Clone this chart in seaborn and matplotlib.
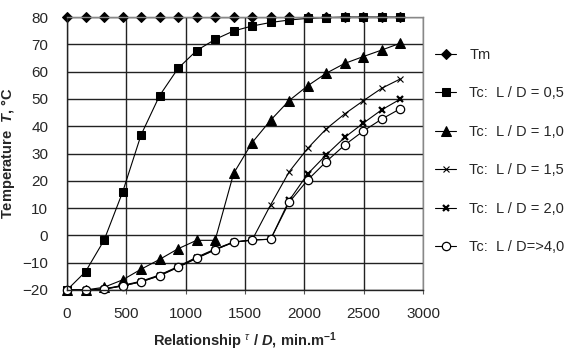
import matplotlib
matplotlib.use('Agg')
import matplotlib.pyplot as plt
import seaborn as sns

# relationship tau / D, min.m-1
ratio = [0, 156, 312, 468, 624, 780, 936, 1092, 1248, 1404,
         1560, 1716, 1872, 2028, 2184, 2340, 2496, 2652, 2808]

t_melt = [80, 80, 80, 80, 80, 80, 80, 80, 80, 80,
          80, 80, 80, 80, 80, 80, 80, 80, 80]
t_ld_05 = [-20, -13.3, -1.8, 15.8, 36.8, 51.2, 61.2, 67.7, 71.8, 74.9,
           76.7, 78.0, 78.9, 79.5, 79.8, 80, 80, 80, 80]
t_ld_10 = [-20, -20, -19, -16.3, -12.4, -8.8, -4.9, -1.8, -1.8, 22.7,
           34.0, 42.2, 49.4, 54.8, 59.4, 63.0, 65.5, 67.9, 70.4]
t_ld_15 = [-20, -20, -19.6, -18.3, -16.8, -14.5, -11.4, -8.0, -5.0, -2.4,
           -1.7, 11.2, 23.3, 31.9, 39.0, 44.5, 49.3, 53.9, 57.3]
t_ld_20 = [-20, -20, -19.7, -18.5, -17.0, -14.7, -11.6, -8.3, -5.2, -2.5,
           -1.7, -1.4, 12.8, 22.5, 29.5, 35.9, 41.1, 46.0, 49.9]
t_ld_40 = [-20, -20, -19.7, -18.5, -17.0, -14.8, -11.7, -8.4, -5.3, -2.5,
           -1.7, -1.4, 12.1, 20.3, 27.0, 33.1, 38.2, 42.6, 46.4]

labels = ['Tm', 'Tc:  L / D = 0,5', 'Tc:  L / D = 1,0', 'Tc:  L / D = 1,5',
          'Tc:  L / D = 2,0', 'Tc:  L / D=>4,0']

sns.set_style('white')
plt.rcParams['font.family'] = ['Liberation Sans', 'DejaVu Sans']
plt.rcParams['mathtext.fontset'] = 'custom'
plt.rcParams['mathtext.rm'] = 'Liberation Sans'
plt.rcParams['mathtext.it'] = 'Liberation Sans:italic'
plt.rcParams['mathtext.bf'] = 'Liberation Sans:bold'
plt.rcParams['mathtext.bfit'] = 'Liberation Sans:bold:italic'

fig = plt.figure(figsize=(5.65, 3.53), dpi=100)
ax = fig.add_axes([0.1186, 0.1785, 0.6301, 0.7733])

styles = [
    dict(marker='D', markersize=5, markerfacecolor='black', markeredgecolor='black'),
    dict(marker='s', markersize=6, markerfacecolor='black', markeredgecolor='black'),
    dict(marker='^', markersize=7, markerfacecolor='black', markeredgecolor='black'),
    dict(marker='x', markersize=5, markeredgewidth=0.8, markeredgecolor='black'),
    dict(marker='x', markersize=4, markeredgewidth=1.6, markeredgecolor='black'),
    dict(marker='o', markersize=6, markerfacecolor='white', markeredgecolor='black',
         markeredgewidth=0.9),
]
series = [t_melt, t_ld_05, t_ld_10, t_ld_15, t_ld_20, t_ld_40]

for vals, lab, st in zip(series, labels, styles):
    sns.lineplot(x=ratio, y=vals, ax=ax, color='black', linewidth=0.8,
                 label=lab, clip_on=False, **st)

ax.set_xlim(0, 3000)
ax.set_ylim(-20, 80)
ax.set_xticks(range(0, 3001, 500))
ax.set_yticks(range(-20, 81, 10))
ax.grid(True, color='#222222', linewidth=1.0)
ax.set_axisbelow(True)
for side in ['top', 'right']:
    ax.spines[side].set_color('#888888')
    ax.spines[side].set_linewidth(1.0)
for side in ['left', 'bottom']:
    ax.spines[side].set_color('#222222')
    ax.spines[side].set_linewidth(1.0)

ax.tick_params(axis='x', which='both', bottom=True, length=3, pad=9,
               labelsize=11, color='#555555')
ax.tick_params(axis='y', which='both', left=False, pad=10, labelsize=11)

ax.set_xlabel(r'Relationship $^{\tau}$ / $\mathbfit{D}$, min.m$^{\mathbf{-1}}$',
              fontsize=10.5, fontweight='bold', labelpad=7)
ax.set_ylabel(r'Temperature  $\mathbfit{T}$, °C', fontsize=10.5,
              fontweight='bold', labelpad=4)

ax.legend(loc='upper left', bbox_to_anchor=(0.77, 0.865), bbox_transform=fig.transFigure,
          frameon=False, fontsize=10.5, labelspacing=1.68, handlelength=1.45,
          handletextpad=0.9, borderaxespad=0, borderpad=0)

fig.savefig('out.png', dpi=100)
